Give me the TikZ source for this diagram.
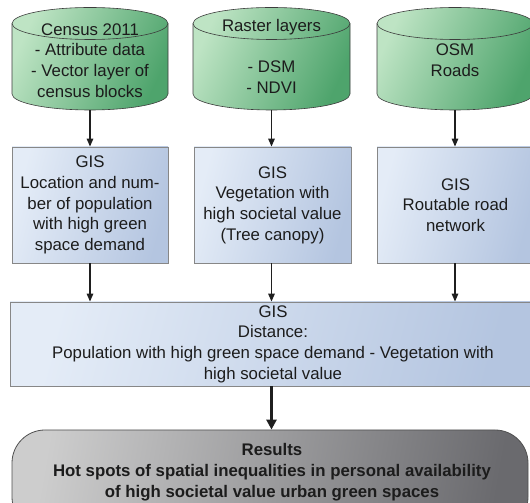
\documentclass[tikz,border=0pt]{standalone}
\usepackage{fontspec}
\setmainfont{Liberation Sans}
\usetikzlibrary{arrows.meta}
\definecolor{cylL}{RGB}{190,228,196}
\definecolor{cylR}{RGB}{78,164,108}
\definecolor{cylE}{RGB}{60,60,60}
\definecolor{boxL}{RGB}{228,236,247}
\definecolor{boxR}{RGB}{180,197,224}
\definecolor{boxE}{RGB}{135,135,135}
\definecolor{resL}{RGB}{205,205,205}
\definecolor{resR}{RGB}{106,106,110}
\definecolor{resE}{RGB}{80,80,80}
\definecolor{txt}{RGB}{28,28,28}
\newcommand{\mycyl}[2]{%
  \shadedraw[cylfill] ({#1-#2},479.5) -- ({#1-#2},409)
    arc[start angle=180,end angle=360,x radius=#2,y radius=16]
    -- ({#1+#2},479.5)
    arc[start angle=0,end angle=180,x radius=#2,y radius=16] -- cycle;
  \draw[cylline] ({#1-#2},479.5) arc[start angle=180,end angle=360,x radius=#2,y radius=16];
}
\begin{document}
\begin{tikzpicture}[x=1pt,y=1pt,
  txtf/.style={font=\fontsize{16.8}{20.7}\selectfont, text=txt, align=center, inner sep=0pt},
  cylfill/.style={left color=cylL, right color=cylR, shading angle=65, draw=cylE, line width=0.6pt},
  cylline/.style={draw=cylE, line width=0.6pt},
  cylbox/.style={rectangle, inner sep=0pt, minimum height=102.5pt},
  gisbox/.style={txtf, rectangle, left color=boxL, right color=boxR, shading angle=75, draw=boxE, line width=0.8pt},
  resbox/.style={rectangle, rounded corners=33pt, left color=resL, right color=resR, shading angle=80, draw=resE, line width=0.8pt},
  arr/.style={draw=black!88, line width=1.4pt, -{Triangle[length=8pt,width=6.5pt]}},
  bigarr/.style={draw=black!88, line width=2.8pt, -{Triangle[length=10pt,width=10pt]}}
]
\useasboundingbox (0,0) rectangle (530,503);

% cylinders
\mycyl{90}{78}
\mycyl{271.5}{78.5}
\mycyl{455}{78}
\node[cylbox, minimum width=156pt] (c1) at (90,444.25) {};
\node[cylbox, minimum width=157pt] (c2) at (271.5,444.25) {};
\node[cylbox, minimum width=156pt] (c3) at (455,444.25) {};
\node[txtf] (c1t) at (90,442.5) {Census 2011\\- Attribute data\\- Vector layer of\\census blocks};
\node[txtf] (c2t) at (271.5,446.5) {Raster layers\\[20.7pt]- DSM\\- NDVI};
\node[txtf] (c3t) at (455,443) {OSM\\Roads};

% GIS boxes
\node[gisbox, minimum width=156pt, minimum height=116pt] (g1) at (90,298) {GIS\\Location and num-\\ber of population\\with high green\\space demand};
\node[gisbox, minimum width=157pt, minimum height=116pt] (g2) at (272.5,298) {GIS\\Vegetation with\\high societal value\\(Tree canopy)};
\node[gisbox, minimum width=157pt, minimum height=116pt] (g3) at (455.5,298) {GIS\\Routable road\\network};

% big GIS box
\node[gisbox, minimum width=526pt, minimum height=84pt] (big) at (273,159) {GIS\\Distance:\\Population with high green space demand - Vegetation with\\high societal value};

% results
\node[resbox, minimum width=516pt, minimum height=100pt] (res) at (270,23) {};
\node[txtf, font=\fontsize{16.8}{20.9}\selectfont\bfseries] (rest) at (272,30.5) {Results\\Hot spots of spatial inequalities in personal availability\\of high societal value urban green spaces};

% connectors
\draw[arr] (c1.south) -- (c1.south |- g1.north);
\draw[arr] (c2.south) -- (c2.south |- g2.north);
\draw[arr] (c3.south) -- (c3.south |- g3.north);
\draw[arr] (g1.south) -- (g1.south |- big.north);
\draw[arr] (g2.south -| c2.south) -- (c2.south |- big.north);
\draw[arr] (g3.south -| c3.south) -- (c3.south |- big.north);
\draw[bigarr] (big.south -| c2.south) -- (c2.south |- res.north);
\end{tikzpicture}
\end{document}
